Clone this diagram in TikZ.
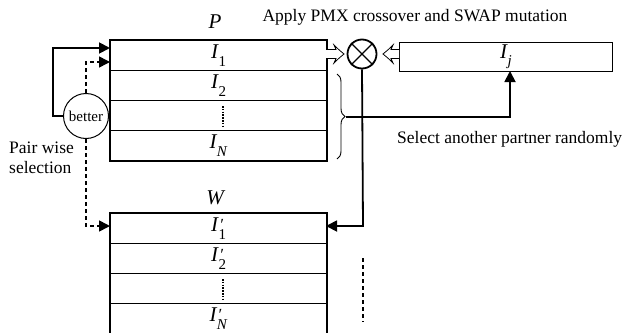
\documentclass[tikz,border=0pt]{standalone}
\usepackage{fontspec}
\setmainfont{Liberation Serif}
\usetikzlibrary{arrows.meta,decorations.pathreplacing}
\newcommand\Ind[2]{\textit{I}\kern-0.02em\raisebox{-0.35em}{\fontsize{15}{15}\selectfont #2}}
\newcommand\IndP[2]{\textit{I}\rlap{\kern0.02em\raisebox{0.05em}{\fontsize{17}{17}\selectfont\itshape ′}}\kern-0.02em\raisebox{-0.35em}{\fontsize{15}{15}\selectfont #2}}
\begin{document}
\begin{tikzpicture}[x=1pt,y=-1pt,
  row/.style={draw, line width=1.1pt, minimum width=216pt, minimum height=30pt, inner sep=0pt, anchor=north west, font=\fontsize{21}{21}\selectfont},
  outer/.style={line width=2.4pt},
  conn/.style={line width=1.8pt, -{Triangle[length=11pt,width=11pt]}},
  dconn/.style={line width=1.6pt, dash pattern=on 4pt off 3pt, -{Triangle[length=11pt,width=11pt]}},
  lbl/.style={font=\fontsize{17.5}{17.5}\selectfont, inner sep=0pt},
  big/.style={font=\fontsize{21}{21}\selectfont\itshape, inner sep=0pt},
  dotsv/.style={line width=2.6pt, dash pattern=on 1.6pt off 1.2pt},
  hollow/.style={draw, line width=0.8pt, fill=white}
]
\useasboundingbox (0,0) rectangle (623,332);
\clip (0,0) rectangle (623,332);

% P box
\node[big] (Plab) at (215,22) {P};
\node[row] (p1) at (110,40) {\Ind{I}{1}};
\node[row] (p2) at (110,70) {\Ind{I}{2}};
\node[row] (p3) at (110,100) {};
\node[row] (p4) at (110,130) {\Ind{I}{\textit{N}}};
\draw[outer] (p1.north west) rectangle (p4.south east);
\draw[dotsv] (223,106) -- (223,128);

% W box
\node[big] (Wlab) at (215,198) {W};
\node[row] (w1) at (110,213) {\IndP{I}{1}};
\node[row] (w2) at (110,243) {\IndP{I}{2}};
\node[row] (w3) at (110,273) {};
\node[row] (w4) at (110,303) {\IndP{I}{\textit{N}}};
\draw[outer] (w1.north west) -- (w1.north east) -- (w4.south east) -- (w4.south west) -- cycle;
\draw[dotsv] (223,279) -- (223,301);

% Ij box
\node[draw, line width=0.9pt, minimum width=213pt, minimum height=29pt, inner sep=0pt, anchor=north west, font=\fontsize{21}{21}\selectfont] (ij) at (399,42) {\Ind{I}{\textit{j}}};

% title
\node[lbl] (title) at (415,17) {Apply PMX crossover and SWAP mutation};

% crossover circle
\node[draw, circle, line width=1.8pt, minimum size=29pt, inner sep=0pt] (cx) at (362,54) {};
\draw[line width=1.4pt] (cx.north east) -- (cx.south west) (cx.north west) -- (cx.south east);

% hollow arrows
\draw[hollow] (326,49.5) -- (336,49.5) -- (334,45) .. controls (338,49) .. (344,54) .. controls (338,59) .. (334,63) -- (336,58.5) -- (326,58.5);
\draw[hollow] (399,49.5) -- (391,49.5) -- (393,45) .. controls (389,49) .. (383,54) .. controls (389,59) .. (393,63) -- (391,58.5) -- (399,58.5);

% better circle
\node[draw, circle, line width=1pt, minimum size=45pt, inner sep=0pt, font=\fontsize{15}{15}\selectfont] (bt) at (86,116) {better};

\coordinate (a1) at (110,48);
\coordinate (a2) at (110,62);
\draw[conn] (bt.west) -- (53,116) -- (53,48) -- (a1);
\draw[dconn] (bt.north) -- (86,62) -- (a2);
\coordinate (a3) at (110,226);
\draw[dconn] (bt.south) -- (86,226) -- (a3);

\node[lbl, align=left, anchor=west, font=\fontsize{17.5}{20}\selectfont] (pw) at (9,158) {Pair wise\\selection};

% brace
\draw[decorate, decoration={brace, amplitude=8pt}, line width=0.9pt] (337,74) -- (337,159) coordinate[midway] (bmid);
\coordinate (btip) at (346,117);
\coordinate (ijb) at (510,71);
\draw[conn] (btip) -- (510,117) -- (ijb);
\node[lbl, anchor=west] (sel) at (397,139) {Select another partner randomly};

% down to W
\coordinate (w1e) at (326,226);
\draw[conn] (cx.south) -- (363,226) -- (w1e);

\draw[line width=1.6pt, dash pattern=on 4pt off 3pt] (363,258) -- (363,322);
\end{tikzpicture}
\end{document}
